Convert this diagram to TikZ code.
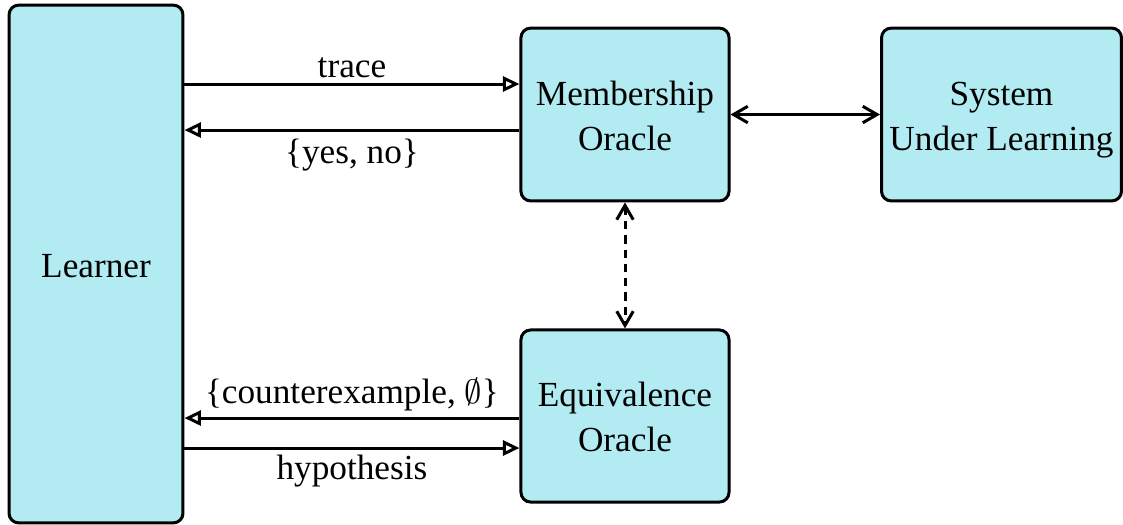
\documentclass[tikz,border=0pt]{standalone}
\usepackage{fontspec}
\setmainfont{Liberation Serif}
\usetikzlibrary{arrows.meta,calc}
\definecolor{boxfill}{RGB}{178,235,242}
\begin{document}
\begin{tikzpicture}[x=0.2667pt,y=-0.2667pt,
  font=\fontsize{9.4}{12}\selectfont,
  block/.style={draw=black,fill=boxfill,line width=0.8pt,rounded corners=2.6pt,
    inner sep=0pt},
  caption/.style={label={[align=center,inner sep=0pt,yshift=-1.1pt]center:#1}},
  flow/.style={line width=0.8pt,-{Triangle[open,length=4.4pt,width=4pt]}},
  both/.style={line width=0.8pt,{Straight Barb[length=3.8pt,width=4.4pt]}-{Straight Barb[length=3.8pt,width=4.4pt]}},
  lbl/.style={inner sep=0pt}]
\useasboundingbox (0,0) rectangle (1123,524);

\node[block,minimum width=46.4pt,minimum height=138.1pt,
  caption={\strut Learner}] (L) at (96,264) {};
\node[block,minimum width=55.5pt,minimum height=46.1pt,
  caption={\strut Membership\\\strut Oracle}] (M) at (625,114.5) {};
\node[block,minimum width=64pt,minimum height=46.1pt,
  caption={\strut System\\\strut Under Learning}] (S) at (1001.5,114.5) {};
\node[block,minimum width=55.5pt,minimum height=45.9pt,
  caption={\strut Equivalence\\\strut Oracle}] (E) at (625,416) {};

% anchor points on the oracle boxes for the four message lines
\path (M.west) ++(0,-30.5) coordinate (mq);
\path (M.west) ++(0,15.5) coordinate (ma);
\path (E.west) ++(0,2) coordinate (ea);
\path (E.west) ++(0,32) coordinate (eq);

\draw[flow] (L.east |- mq) -- (mq) node[lbl,midway,above=1.3pt] {trace};
\draw[flow] (ma) -- (L.east |- ma) node[lbl,midway,below=2pt] {\{yes, no\}};
\draw[flow] (ea) -- (L.east |- ea) node[lbl,midway,above=1.5pt] {\{counterexample, $\emptyset$\}};
\draw[flow] (L.east |- eq) -- (eq) node[lbl,midway,below=1.6pt] {hypothesis};

\draw[both] (M.east) -- (S.west);
\draw[both,dashed,dash pattern=on 2.2pt off 1.6pt] (M.south) -- (E.north);
\end{tikzpicture}
\end{document}
